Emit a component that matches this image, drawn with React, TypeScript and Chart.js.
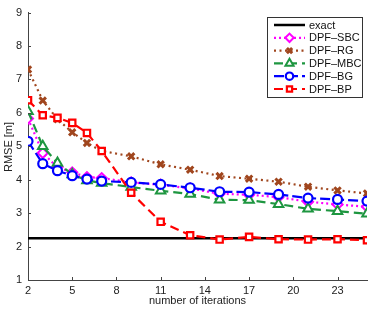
import React, { useEffect, useRef } from 'react';
import { Chart, registerables } from 'chart.js';
import { drawPoint } from 'chart.js/helpers';

Chart.register(...registerables);

const iterations = [2, 3, 4, 5, 6, 7, 9, 11, 13, 15, 17, 19, 21, 23, 25];
const xTickValues = [2, 5, 8, 11, 14, 17, 20, 23];
const yTickValues = [1, 2, 3, 4, 5, 6, 7, 8, 9];
const exactValue = 2.25;
const dpfSBC = [5.83, 4.8, 4.37, 4.22, 4.08, 4.05, 3.92, 3.85, 3.74, 3.58, 3.55, 3.48, 3.34, 3.26, 3.19];
const dpfRG = [7.3, 6.37, 5.81, 5.42, 5.1, 4.86, 4.7, 4.46, 4.3, 4.11, 4.03, 3.94, 3.79, 3.68, 3.59];
const dpfMBC = [6.05, 5.0, 4.5, 4.16, 3.98, 3.9, 3.78, 3.67, 3.57, 3.4, 3.39, 3.27, 3.13, 3.06, 2.98];
const dpfBG = [5.15, 4.48, 4.27, 4.12, 4.02, 3.96, 3.92, 3.86, 3.76, 3.64, 3.63, 3.56, 3.45, 3.41, 3.36];
const dpfBP = [6.38, 5.93, 5.85, 5.7, 5.4, 4.86, 3.61, 2.74, 2.34, 2.21, 2.29, 2.22, 2.21, 2.22, 2.19];

const FONT = '"Liberation Sans", Arial, Helvetica, sans-serif';

const toPts = (ys: number[]) => ys.map((y, i) => ({ x: iterations[i], y }));

const legendPlugin = {
  id: 'matlabLegend',
  afterDraw(chart: any) {
    const ctx = chart.ctx;
    const x0 = 267, y0 = 17, w = 95, h = 80;
    ctx.save();
    ctx.fillStyle = '#fff';
    ctx.fillRect(x0, y0, w, h);
    ctx.strokeStyle = '#333';
    ctx.lineWidth = 1;
    ctx.strokeRect(x0 + 0.5, y0 + 0.5, w, h);
    const rowH = 12.8;
    chart.data.datasets.forEach((ds: any, i: number) => {
      const y = y0 + 8 + i * rowH;
      ctx.save();
      ctx.strokeStyle = ds.borderColor;
      ctx.lineWidth = ds.borderWidth;
      ctx.setLineDash(ds.borderDash || []);
      ctx.beginPath();
      ctx.moveTo(274, y);
      ctx.lineTo(305, y);
      ctx.stroke();
      ctx.restore();
      if (ds.pointStyle && ds.pointRadius > 0) {
        ctx.save();
        ctx.strokeStyle = ds.pointBorderColor || ds.borderColor;
        ctx.fillStyle = ds.pointBackgroundColor || '#fff';
        ctx.lineWidth = ds.pointBorderWidth || 1.5;
        drawPoint(ctx, { pointStyle: ds.pointStyle, radius: ds.pointRadius - 0.8, rotation: 0, borderWidth: ds.pointBorderWidth }, 289.5, y);
        ctx.restore();
      }
      ctx.fillStyle = '#111';
      ctx.font = `11px ${FONT}`;
      ctx.textAlign = 'left';
      ctx.textBaseline = 'middle';
      ctx.fillText(ds.label, 309, y + 0.5);
    });
    ctx.restore();
  },
};

const decorPlugin = {
  id: 'decor',
  afterDraw(chart: any) {
    const ctx = chart.ctx;
    const { left, bottom, right } = chart.chartArea;
    const xs = chart.scales.x;
    const ys = chart.scales.y;
    ctx.save();
    ctx.strokeStyle = '#444';
    ctx.lineWidth = 1;
    ctx.beginPath();
    xTickValues.forEach((v) => {
      const px = Math.round(xs.getPixelForValue(v)) + 0.5;
      ctx.moveTo(px, bottom);
      ctx.lineTo(px, bottom - 3);
    });
    yTickValues.forEach((v) => {
      const py = Math.round(ys.getPixelForValue(v)) + 0.5;
      ctx.moveTo(left, py);
      ctx.lineTo(left + 3, py);
    });
    ctx.stroke();
    ctx.fillStyle = '#222';
    ctx.font = `11px ${FONT}`;
    ctx.textAlign = 'center';
    ctx.textBaseline = 'middle';
    ctx.fillText('number of iterations', (left + right) / 2, 301);
    ctx.translate(9, 147);
    ctx.rotate(-Math.PI / 2);
    ctx.fillText('RMSE [m]', 0, 0);
    ctx.restore();
  },
};

export default function App() {
  const ref = useRef<HTMLCanvasElement>(null);
  useEffect(() => {
    document.body.style.margin = '0';
    const ctx = ref.current!.getContext('2d')!;
    const chart = new Chart(ctx, {
      type: 'line',
      data: {
        datasets: [
          {
            label: 'exact',
            data: [{ x: 2, y: exactValue }, { x: 25, y: exactValue }],
            borderColor: '#000',
            borderWidth: 2.5,
            pointRadius: 0,
            pointStyle: false as any,
            order: 5,
          },
          {
            label: 'DPF\u2013SBC',
            data: toPts(dpfSBC),
            borderColor: '#ff00ff',
            borderWidth: 2.2,
            borderDash: [2, 3],
            pointStyle: 'rectRot',
            pointRadius: 5,
            pointBorderWidth: 2,
            pointBorderColor: '#ff00ff',
            pointBackgroundColor: '#fff',
            order: 4,
          },
          {
            label: 'DPF\u2013RG',
            data: toPts(dpfRG),
            borderColor: '#a0461e',
            borderWidth: 2.2,
            borderDash: [2, 3.5],
            pointStyle: 'crossRot',
            pointRadius: 4.5,
            pointBorderWidth: 3,
            pointBorderColor: '#a0461e',
            pointBackgroundColor: '#a0461e',
            order: 3,
          },
          {
            label: 'DPF\u2013MBC',
            data: toPts(dpfMBC),
            borderColor: '#1e9640',
            borderWidth: 2.2,
            borderDash: [9, 5],
            pointStyle: 'triangle',
            pointRadius: 5.5,
            pointBorderWidth: 2,
            pointBorderColor: '#1e9640',
            pointBackgroundColor: '#fff',
            order: 2,
          },
          {
            label: 'DPF\u2013BG',
            data: toPts(dpfBG),
            borderColor: '#0000ff',
            borderWidth: 2.2,
            borderDash: [10, 4],
            pointStyle: 'circle',
            pointRadius: 4.5,
            pointBorderWidth: 2.2,
            pointBorderColor: '#0000ff',
            pointBackgroundColor: '#fff',
            order: 1,
          },
          {
            label: 'DPF\u2013BP',
            data: toPts(dpfBP),
            borderColor: '#ff0000',
            borderWidth: 2.2,
            borderDash: [9, 5],
            pointStyle: 'rect',
            pointRadius: 4.5,
            pointBorderWidth: 2.2,
            pointBorderColor: '#ff0000',
            pointBackgroundColor: '#fff',
            order: 0,
          },
        ],
      },
      options: {
        animation: false,
        responsive: false,
        maintainAspectRatio: false,
        layout: { padding: { top: 12, right: 9, left: 0, bottom: 0 } },
        plugins: {
          legend: { display: false },
          tooltip: { enabled: false },
        },
        scales: {
          x: {
            type: 'linear',
            min: 2,
            max: 25,
            afterBuildTicks: (scale: any) => {
              scale.ticks = xTickValues.map((v) => ({ value: v }));
            },
            afterFit: (scale: any) => {
              scale.height = 30;
            },
            grid: { display: false, drawTicks: false },
            border: { display: true, color: '#444', width: 1 },
            ticks: {
              padding: 4,
              color: '#222',
              font: { family: FONT, size: 11 },
              autoSkip: false,
              maxRotation: 0,
            },
          },
          y: {
            type: 'linear',
            min: 1,
            max: 9,
            afterBuildTicks: (scale: any) => {
              scale.ticks = yTickValues.map((v) => ({ value: v }));
            },
            afterFit: (scale: any) => {
              scale.width = 28;
            },
            grid: { display: false, drawTicks: false },
            border: { display: true, color: '#444', width: 1 },
            ticks: {
              padding: 6,
              color: '#222',
              font: { family: FONT, size: 11 },
            },
          },
        },
      },
      plugins: [decorPlugin, legendPlugin],
    });
    return () => chart.destroy();
  }, []);
  return (
    <div style={{ position: 'absolute', left: 0, top: 0, width: 376, height: 310 }}>
      <canvas ref={ref} width={376} height={310} style={{ width: 376, height: 310 }} />
    </div>
  );
}
